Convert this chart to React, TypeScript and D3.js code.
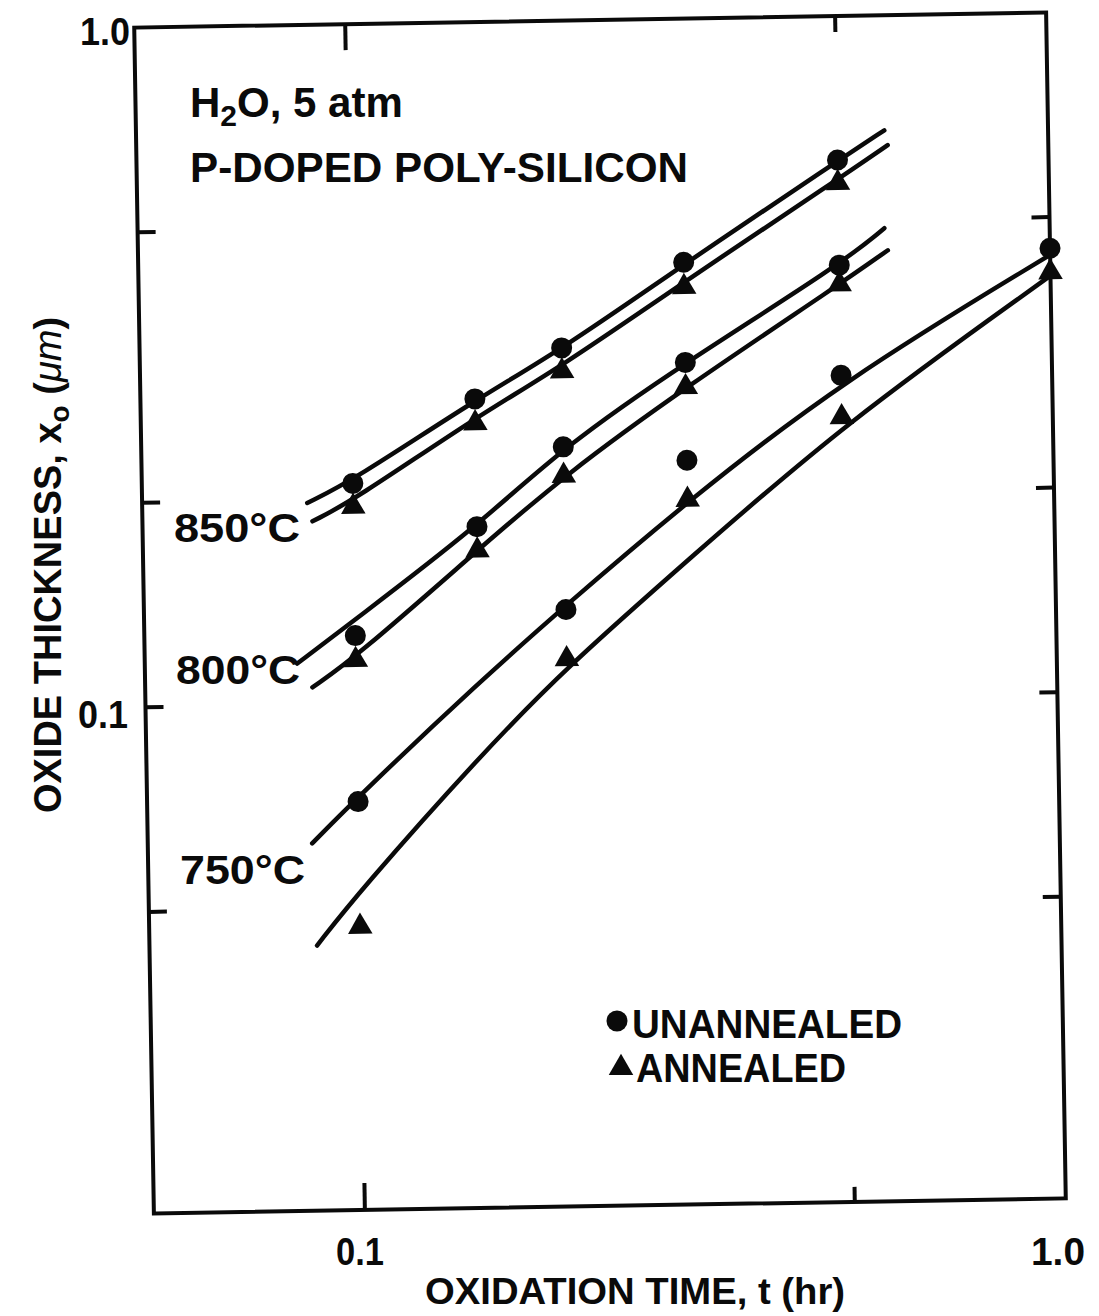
import * as d3 from 'd3';

// oxidation time (hr) at which samples were measured
const timesA = [0.1, 0.15, 0.2, 0.3, 0.5];
const timesB = [0.1, 0.2, 0.3, 0.5, 1.0];

// measured oxide thickness (um)
const unannealed850 = [0.211, 0.279, 0.33, 0.438, 0.614];
const annealed850 = [0.195, 0.257, 0.305, 0.403, 0.568];
const unannealed800 = [0.126, 0.181, 0.236, 0.312, 0.43];
const annealed800 = [0.116, 0.167, 0.214, 0.287, 0.403];
const unannealed750 = [0.0718, 0.136, 0.224, 0.296, 0.45];
const annealed750 = [0.047, 0.115, 0.196, 0.257, 0.415];

// hand drawn fit curves
const fitT850U = [0.086, 0.1, 0.15, 0.2, 0.3, 0.5, 0.584];
const fitX850U = [0.198, 0.213, 0.278, 0.328, 0.435, 0.612, 0.677];
const fitT850A = [0.0874, 0.1, 0.15, 0.2, 0.3, 0.5, 0.59];
const fitX850A = [0.186, 0.199, 0.262, 0.31, 0.41, 0.575, 0.644];
const fitT800U = [0.0825, 0.1, 0.15, 0.2, 0.3, 0.5, 0.581];
const fitX800U = [0.115, 0.133, 0.181, 0.236, 0.312, 0.43, 0.486];
const fitT800A = [0.0866, 0.1, 0.15, 0.2, 0.3, 0.5, 0.587];
const fitX800A = [0.106, 0.117, 0.167, 0.214, 0.287, 0.403, 0.451];
const fitT750U = [0.0858, 0.1, 0.15, 0.2, 0.3, 0.5, 1.0];
const fitX750U = [0.0625, 0.073, 0.107, 0.138, 0.195, 0.29, 0.44];
const fitT750A = [0.0867, 0.1, 0.15, 0.2, 0.3, 0.5, 1.0];
const fitX750A = [0.0442, 0.053, 0.0835, 0.112, 0.16, 0.25, 0.41];

const xTicks = [0.1, 0.5];
const yTicks = [0.5, 0.2, 0.1, 0.05];
const xTickLabels = ['0.1', '1.0'];
const yTickLabels = ['1.0', '0.1'];
const tempLabels = ['850°C', '800°C', '750°C'];

const W = 1099;
const H = 1316;
const L = 144, R = 1056, T = 20, B = 1206;
const FONT = "'Liberation Sans', Arial, sans-serif";
const INK = '#0a0a0a';

export default function App() {
  const x = d3.scaleLog().domain([0.05, 1]).range([L, R]);
  const y = d3.scaleLog().domain([0.018, 1]).range([B, T]);

  const line = d3
    .line<[number, number]>()
    .x((d) => x(d[0]))
    .y((d) => y(d[1]))
    .curve(d3.curveBasis);

  const fits = [
    [fitT850U, fitX850U],
    [fitT850A, fitX850A],
    [fitT800U, fitX800U],
    [fitT800A, fitX800A],
    [fitT750U, fitX750U],
    [fitT750A, fitX750A],
  ].map(([ts, xs]) => ts.map((t, i) => [t, xs[i]] as [number, number]));

  const circles = [
    [timesA, unannealed850],
    [timesA, unannealed800],
    [timesB, unannealed750],
  ].flatMap(([ts, vs]) => ts.map((t, i) => [t, vs[i]]));
  const triangles = [
    [timesA, annealed850],
    [timesA, annealed800],
    [timesB, annealed750],
  ].flatMap(([ts, vs]) => ts.map((t, i) => [t, vs[i]]));

  const tri = d3.symbol().type(d3.symbolTriangle).size(260)();

  return (
    <svg
      width={W}
      height={H}
      style={{ position: 'absolute', left: 0, top: 0, background: '#fff' }}
      fontFamily={FONT}
      fill={INK}
    >
      <rect width={W} height={H} fill="#fff" />
      {/* the scan is tilted by about one degree */}
      <g transform="rotate(-0.95 600 613)">
        <rect x={L} y={T} width={R - L} height={B - T} fill="none" stroke={INK} strokeWidth={4} />
        {xTicks.map((t, i) => (
          <g key={'xt' + t} stroke={INK} strokeWidth={4}>
            <line x1={x(t)} x2={x(t)} y1={B} y2={B - (i === 0 ? 27 : 15)} />
            <line x1={x(t)} x2={x(t)} y1={T} y2={T + (i === 0 ? 26 : 16)} />
          </g>
        ))}
        {yTicks.map((v) => (
          <g key={'yt' + v} stroke={INK} strokeWidth={4}>
            <line x1={L} x2={L + 18} y1={y(v)} y2={y(v)} />
            <line x1={R} x2={R - 18} y1={y(v)} y2={y(v)} />
          </g>
        ))}
        {fits.map((pts, i) => (
          <path
            key={'fit' + i}
            d={line(pts) || ''}
            fill="none"
            stroke={INK}
            strokeWidth={4.5}
            strokeLinecap="round"
          />
        ))}
        {circles.map(([t, v], i) => (
          <circle key={'c' + i} cx={x(t)} cy={y(v)} r={10.5} fill={INK} />
        ))}
        {triangles.map(([t, v], i) => (
          <path key={'t' + i} d={tri || ''} transform={`translate(${x(t)},${y(v)})`} fill={INK} />
        ))}
      </g>

      {/* tick labels */}
      <g fontSize={38} fontWeight="bold">
        <text x={360} y={1265} textAnchor="middle" textLength={48} lengthAdjust="spacingAndGlyphs">
          {xTickLabels[0]}
        </text>
        <text x={1058} y={1265} textAnchor="middle" textLength={54} lengthAdjust="spacingAndGlyphs">
          {xTickLabels[1]}
        </text>
        <text x={130} y={45} textAnchor="end" textLength={50} lengthAdjust="spacingAndGlyphs">
          {yTickLabels[0]}
        </text>
        <text x={128} y={728} textAnchor="end" textLength={50} lengthAdjust="spacingAndGlyphs">
          {yTickLabels[1]}
        </text>
      </g>

      {/* axis titles */}
      <text
        x={425}
        y={1304}
        fontSize={36}
        fontWeight="bold"
        textLength={420}
        lengthAdjust="spacingAndGlyphs"
      >
        OXIDATION TIME, t (hr)
      </text>
      <text
        transform="translate(61,565) rotate(-90)"
        textAnchor="middle"
        fontSize={38}
        fontWeight="bold"
      >
        OXIDE THICKNESS, x
        <tspan fontSize={28} dy={8}>o</tspan>
        <tspan dy={-8}> (</tspan>
        <tspan fontStyle="italic" fontWeight="normal">μm</tspan>
        <tspan>)</tspan>
      </text>

      {/* annotation */}
      <g fontSize={42} fontWeight="bold">
        <text x={190} y={117}>
          H<tspan fontSize={30} dy={9}>2</tspan>
          <tspan dy={-9}>O, 5 atm</tspan>
        </text>
        <text x={190} y={182} textLength={498} lengthAdjust="spacingAndGlyphs">
          P-DOPED POLY-SILICON
        </text>
      </g>

      {/* temperature labels */}
      <g fontSize={40} fontWeight="bold">
        <text x={174} y={542} textLength={126} lengthAdjust="spacingAndGlyphs">{tempLabels[0]}</text>
        <text x={176} y={684} textLength={124} lengthAdjust="spacingAndGlyphs">{tempLabels[1]}</text>
        <text x={180} y={884} textLength={125} lengthAdjust="spacingAndGlyphs">{tempLabels[2]}</text>
      </g>

      {/* legend */}
      <g fontSize={40} fontWeight="bold">
        <circle cx={617} cy={1021} r={10.5} fill={INK} />
        <text x={632} y={1038} textLength={270} lengthAdjust="spacingAndGlyphs">UNANNEALED</text>
        <path d={tri || ''} transform="translate(621,1068)" fill={INK} />
        <text x={636} y={1082} textLength={210} lengthAdjust="spacingAndGlyphs">ANNEALED</text>
      </g>
    </svg>
  );
}
